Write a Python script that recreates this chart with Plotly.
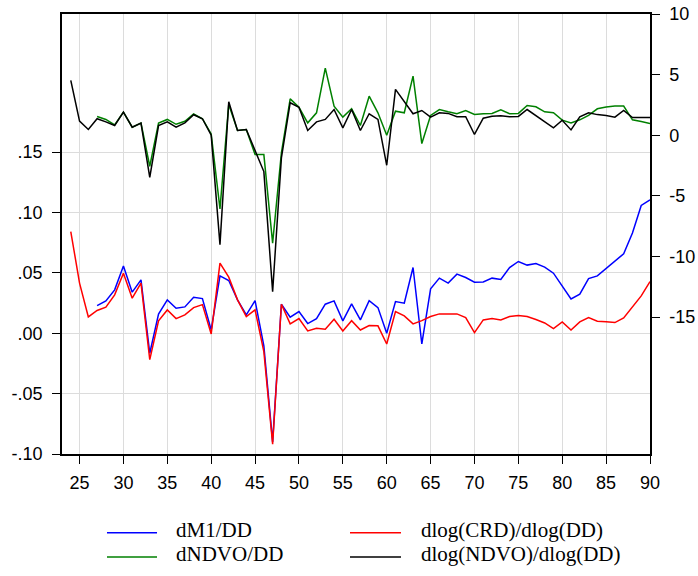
import plotly.graph_objects as go

# ---------------- data ----------------
years = list(range(24, 91))

dm1_dd = [None, None, None,
          0.0229, 0.0268, 0.0359, 0.0556, 0.034, 0.0442, -0.0166, 0.0158, 0.0276, 0.0207,
          0.0218, 0.0298, 0.0287, 0.0027, 0.0475, 0.0436, 0.0276, 0.0152, 0.027, -0.0105,
          -0.090, 0.024, 0.0133, 0.0179, 0.008, 0.0121, 0.024, 0.0268, 0.0102, 0.0243,
          0.011, 0.027, 0.0212, 0.0, 0.0262, 0.0249, 0.0544, -0.0089, 0.0367, 0.0456,
          0.0415, 0.0489, 0.0461, 0.0423, 0.0425, 0.0456, 0.0445, 0.0544, 0.0594, 0.0564,
          0.0577, 0.0547, 0.0497, 0.0386, 0.0284, 0.0323, 0.0453, 0.0475, 0.0536, 0.0589,
          0.0658, 0.0829, 0.1058, 0.1105]

dlog_crd = [0.0842, 0.0415, 0.0135, 0.0188, 0.0215, 0.0318, 0.0497, 0.029, 0.0415, -0.0219,
            0.0102, 0.0193, 0.0121, 0.0152, 0.0212, 0.0237, -0.0006, 0.058, 0.0464, 0.0276,
            0.0138, 0.0193, -0.0153, -0.0918, 0.024, 0.0077, 0.0121, 0.0019, 0.0041, 0.0033,
            0.0116, 0.0019, 0.0104, 0.0027, 0.0063, 0.0061, -0.0089, 0.0179, 0.0143, 0.0077,
            0.0104, 0.0138, 0.016, 0.0158, 0.016, 0.0129, 0.0005, 0.011, 0.0121, 0.011,
            0.0138, 0.0146, 0.0138, 0.0113, 0.0085, 0.0038, 0.0094, 0.0027, 0.0094, 0.0129,
            0.01, 0.0094, 0.0088, 0.0127, 0.0216, 0.0309, 0.0428]

dndvo_dd = [None, None, None,
            1.55, 1.3, 0.85, 1.9, 0.66, 1.0, -2.56, 1.0, 1.3, 0.9, 1.15, 1.75, 1.36, 0.1,
            -6.08, 2.54, 0.39, 0.47, -1.6, -1.6, -8.9, -1.45, 3.0, 2.3, 1.02, 1.85, 5.54,
            2.4, 1.49, 2.18, 0.8, 3.22, 1.85, 0.0, 1.98, 1.85, 4.88, -0.69, 1.63, 2.12, 1.93,
            1.77, 2.04, 1.71, 1.77, 1.8, 2.1, 1.77, 1.8, 2.45, 2.35, 1.93, 1.85, 1.24, 1.02,
            1.27, 1.63, 2.18, 2.32, 2.4, 2.4, 1.27, 1.13, 0.97]

dlog_ndvo = [4.52, 1.16, 0.47, 1.36, 1.1, 0.8, 1.9, 0.66, 1.0, -3.47, 0.8, 1.1, 0.66, 1.02,
             1.69, 1.36, 0.0, -9.03, 2.76, 0.39, 0.47, -1.32, -3.0, -12.9, -1.87, 2.68, 2.31,
             0.39, 1.1, 1.3, 2.12, 0.61, 2.12, 0.39, 1.77, 1.3, -2.48, 3.78, 2.76, 1.77, 2.04,
             1.49, 1.85, 1.8, 1.52, 1.52, 0.06, 1.4, 1.57, 1.6, 1.52, 1.55, 2.12, 1.63, 1.13,
             0.61, 1.24, 0.44, 1.52, 1.85, 1.7, 1.63, 1.49, 2.04, 1.46, 1.46, 1.46]

x_ticks = [25, 30, 35, 40, 45, 50, 55, 60, 65, 70, 75, 80, 85, 90]
left_tickvals = [-0.10, -0.05, 0.00, 0.05, 0.10, 0.15]
left_ticktext = ["-.10", "-.05", ".00", ".05", ".10", ".15"]
right_tickvals = [-15, -10, -5, 0, 5, 10]
right_ticktext = ["-15", "-10", "-5", "0", "5", "10"]

series = [
    ("dM1/DD", dm1_dd, "y", "#0000FF"),
    ("dlog(CRD)/dlog(DD)", dlog_crd, "y", "#FF0000"),
    ("dNDVO/DD", dndvo_dd, "y2", "#008000"),
    ("dlog(NDVO)/dlog(DD)", dlog_ndvo, "y2", "#000000"),
]

# ---------------- figure ----------------
fig = go.Figure()
for name, vals, ax, col in series:
    fig.add_trace(go.Scatter(x=years, y=vals, name=name, yaxis=ax, mode="lines",
                             line=dict(color=col, width=1.5), connectgaps=False,
                             showlegend=False))

tickfont = dict(family="Liberation Sans, Arial, sans-serif", size=18, color="#000000")

fig.update_layout(
    width=698, height=576,
    margin=dict(l=62, r=48, t=14, b=122, autoexpand=False),
    paper_bgcolor="white", plot_bgcolor="white",
    showlegend=False,
    xaxis=dict(range=[23, 90], tickvals=x_ticks, ticks="outside", ticklen=8,
               tickwidth=1, tickcolor="#000000", showline=True, linecolor="#000000",
               linewidth=1.5, mirror=True, showgrid=True, gridcolor="#DCDCDC",
               gridwidth=1, zeroline=False, tickfont=tickfont, ticklabelstandoff=4,
               automargin=False),
    yaxis=dict(range=[-0.10, 0.2643], tickvals=left_tickvals, ticktext=left_ticktext,
               ticks="outside", ticklen=8, tickwidth=1, tickcolor="#000000",
               showline=True, linecolor="#000000", linewidth=1.5, showgrid=True,
               gridcolor="#DCDCDC", gridwidth=1, zeroline=False, tickfont=tickfont,
               ticklabelstandoff=6, automargin=False),
    yaxis2=dict(range=[-26.3, 10], tickvals=right_tickvals, ticktext=right_ticktext,
                overlaying="y", side="right", ticks="outside", ticklen=8, tickwidth=1,
                tickcolor="#000000", showline=True, linecolor="#000000", linewidth=1.5,
                showgrid=False, zeroline=False, tickfont=tickfont, ticklabelstandoff=6,
                automargin=False),
)

# ---------------- legend (two columns, EViews style) ----------------
legend_pos = [  # (line x0, line x1, text x, row y) in paper coords
    (0.0765, 0.1616, 0.1905, -0.1790),
    (0.4898, 0.5765, 0.6070, -0.1790),
    (0.0765, 0.1616, 0.1905, -0.2340),
    (0.4898, 0.5765, 0.6070, -0.2340),
]
for (name, _, _, col), (lx0, lx1, tx, ry) in zip(series, legend_pos):
    fig.add_shape(type="line", xref="paper", yref="paper", x0=lx0, x1=lx1, y0=ry, y1=ry,
                  line=dict(color=col, width=1.5))
    fig.add_annotation(xref="paper", yref="paper", x=tx, y=ry + 0.006, text=name,
                       showarrow=False, xanchor="left", yanchor="middle",
                       font=dict(family="Liberation Serif, Times New Roman, serif",
                                 size=21, color="#000000"))

fig.write_html(
    "out.html",
    config={"displayModeBar": False},
    post_script="document.body.style.margin='0';document.body.style.overflow='hidden';",
)
